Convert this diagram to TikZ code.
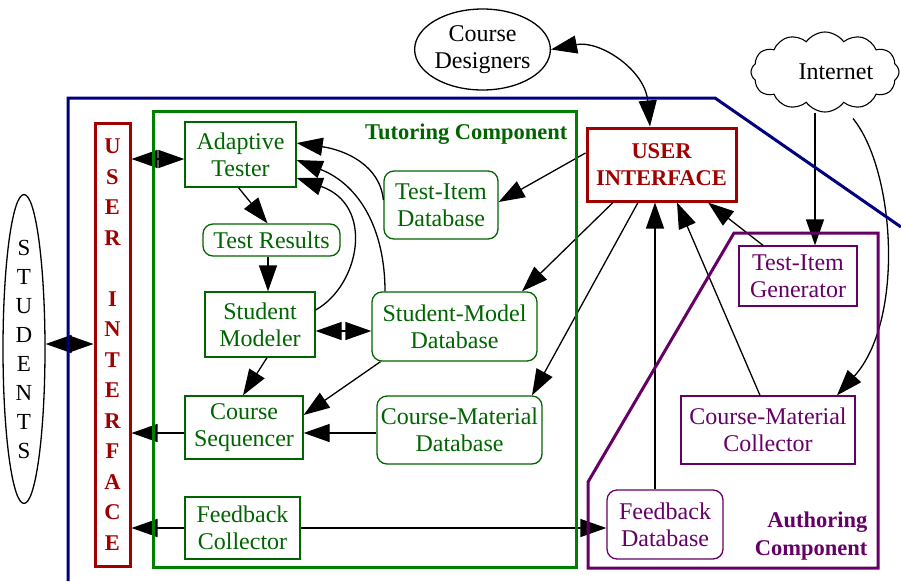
\documentclass[tikz,border=0pt]{standalone}
\usepackage{fontspec}
\setmainfont{Liberation Serif}
\usetikzlibrary{arrows.meta,shapes.geometric,shapes.symbols}
\definecolor{dgreen}{RGB}{0,100,0}
\definecolor{bgreen}{RGB}{0,128,0}
\definecolor{dred}{RGB}{160,0,0}
\definecolor{navyc}{RGB}{0,0,128}
\definecolor{dpurple}{RGB}{102,0,102}
\begin{document}
\begin{tikzpicture}[x=1pt,y=1pt,
  font=\fontsize{24}{27}\selectfont,
  gbox/.style={draw=dgreen, line width=1.3pt, text=dgreen, align=center, inner sep=0pt},
  grbox/.style={gbox, rounded corners=10pt},
  pbox/.style={draw=dpurple, line width=1.3pt, text=dpurple, align=center, inner sep=0pt},
  prbox/.style={pbox, rounded corners=10pt},
  rbox/.style={draw=dred, line width=3pt, text=dred, align=center, inner sep=0pt, font=\fontsize{22.5}{27}\selectfont\bfseries},
  arr/.style={line width=1.3pt, -{Triangle[length=26pt,width=18pt]}},
  dbl/.style={line width=1.3pt, {Triangle[length=26pt,width=18pt]}-{Triangle[length=26pt,width=18pt]}},
  bx/.style 2 args={minimum width=#1pt, minimum height=#2pt}
]
\useasboundingbox (0,0) rectangle (901,-581);

% nodes
\node[gbox, bx={111}{65}] (AT) at (240.5,-154.5) {Adaptive\\Tester};
\node[grbox, bx={137}{32}] (TR) at (271.5,-240) {Test Results};
\node[gbox, bx={110}{65}] (SM) at (260,-324.5) {Student\\Modeler};
\node[gbox, bx={118}{63}] (CS) at (244,-427.5) {Course\\Sequencer};
\node[gbox, bx={115}{62}] (FC) at (242.5,-528) {Feedback\\Collector};
\node[grbox, bx={114}{68}] (TID) at (441,-205) {Test-Item\\Database};
\node[grbox, bx={165}{69}] (SMD) at (454.5,-326.5) {Student-Model\\Database};
\node[grbox, bx={165}{68}] (CMD) at (459.5,-430) {Course-Material\\Database};
\node[rbox, bx={149}{73}] (UI) at (661.5,-164.5) {USER\\INTERFACE};
\node[pbox, bx={118}{60}] (TIG) at (798,-276) {Test-Item\\Generator};
\node[pbox, bx={174}{68}] (CMC) at (768,-430) {Course-Material\\Collector};
\node[prbox, bx={116}{69}] (FD) at (665,-524.5) {Feedback\\Database};
\node[rbox, bx={35}{443}, font=\fontsize{22.5}{30.5}\selectfont\bfseries] (UIV) at (112.5,-344.5)
  {U\\S\\E\\R\\[30.5pt]I\\N\\T\\E\\R\\F\\A\\C\\E};
\node[draw, ellipse, line width=1.3pt, inner sep=0pt, bx={42}{264}, align=center,
  font=\fontsize{23}{29}\selectfont] (ST) at (24,-349) {S\\T\\U\\D\\E\\N\\T\\S};
\node[draw, ellipse, line width=1.3pt, inner sep=0pt, bx={129}{81}, align=center] (CD) at (482.5,-49.5) {Course\\Designers};
\node[draw, cloud, cloud puffs=12, cloud puff arc=110, cloud ignores aspect, line width=1.1pt, inner sep=0pt,
  minimum width=148pt, minimum height=80pt] (NET) at (825,-72) {};
\node[anchor=west] (NETT) at (795,-72) {Internet};

\node[anchor=east, text=dgreen, font=\fontsize{22.5}{27}\selectfont\bfseries] (TC) at (571,-134) {Tutoring Component};
\node[anchor=east, align=right, text=dpurple, font=\fontsize{22.5}{28}\selectfont\bfseries] (AC) at (871,-536) {Authoring\\Component};

% connectors
\draw[dbl] ([yshift=5]ST.east) -- ([yshift=5]ST.east -| UIV.west);
\draw[dbl] ([yshift=-4.5]UIV.east |- AT.west) -- ([yshift=-4.5]AT.west);
\draw[arr] ([xshift=-2]AT.south) -- ([xshift=-4]TR.north);
\draw[arr] ([xshift=-3.5]TR.south) -- ([xshift=-3.5]TR.south |- SM.north);
\draw[dbl] ([yshift=-6.5]SM.east) -- ([yshift=-6.5]SM.east -| SMD.west);
\draw[arr] ([yshift=5]TID.west) .. controls (380,-165) and (345,-150) .. ([yshift=11.5]AT.east);
\draw[arr] ([xshift=-69.5]SMD.north) .. controls (385,-230) and (360,-185) .. ([yshift=-5.5]AT.east);
\draw[arr] ([yshift=14.5]SM.east) .. controls (360,-285) and (375,-205) .. ([yshift=-23.5]AT.east);
\draw[arr] ([yshift=11.5]UI.west) -- ([yshift=3]TID.east);
\draw[arr] ([xshift=-48.5]UI.south) -- ([xshift=67.5]SMD.north);
\draw[arr] ([xshift=-23.5]UI.south) -- ([xshift=72.5]CMD.north);
\draw[arr] ([xshift=-10]FD.north) -- ([xshift=-10]FD.north |- UI.south);
\draw[arr] ([xshift=-8]CMC.north) -- ([xshift=15.5]UI.south);
\draw[arr] ([xshift=-35]TIG.north) -- ([xshift=46.5]UI.south);
\draw[arr] ([xshift=-10]NET.south) -- ([xshift=-10]NET.south |- TIG.north);
\draw[arr] ([xshift=28,yshift=-6]NET.south) .. controls (895,-170) and (905,-320) .. ([xshift=69]CMC.north);
\draw[dbl] (CD.east) .. controls (600,-40) and (645,-70) .. ([xshift=-11.5]UI.north);
\draw[arr] ([xshift=-74]SMD.south) -- ([yshift=12.5]CS.east);
\draw[arr] ([yshift=-3]CMD.west) -- ([yshift=-3]CMD.west -| CS.east);
\draw[arr] ([xshift=7]SM.south) -- ([xshift=-1]CS.north);
\draw[arr] ([yshift=-5.5]CS.west) -- ([yshift=-5.5]CS.west -| UIV.east);
\draw[arr] (FC.west) -- (FC.west -| UIV.east);
\draw[arr] (FC.east) -- (FC.east -| FD.west);

% containers
\draw[navyc, line width=3pt] (68,-581) -- (68,-98) -- (715,-98) -- (901,-227);
\draw[bgreen, line width=3pt] (153,-111) rectangle (576,-567);
\draw[dpurple, line width=3pt] (734,-233) -- (878,-233) -- (878,-568) -- (588,-568) -- (588,-482) -- cycle;
\end{tikzpicture}
\end{document}
